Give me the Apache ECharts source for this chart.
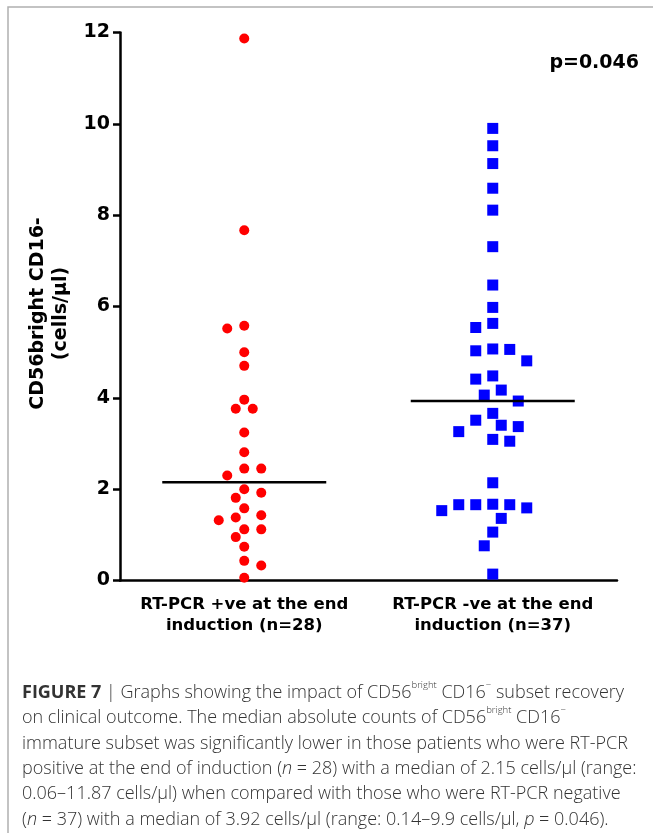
<!DOCTYPE html>
<html>
<head>
<meta charset="utf-8">
<script src="https://cdn.jsdelivr.net/npm/echarts@6/dist/echarts.min.js"></script>
<style>
  html, body { margin: 0; padding: 0; background: #fff; }
  #chart { width: 653px; height: 833px; }
</style>
</head>
<body>
<div id="chart"></div>
<script>
// groups on the x axis
const categories = ['RT-PCR +ve at the end\ninduction (n=28)', 'RT-PCR -ve at the end\ninduction (n=37)'];

// CD56bright CD16- counts (cells/ul)
const pcrPositive = [
  11.87, 7.67, 5.58, 5.52, 5.00, 4.70, 3.96, 3.76, 3.76, 3.24,
  2.81, 2.45, 2.45, 2.30, 2.00, 1.92, 1.81, 1.58, 1.38, 1.43,
  1.32, 1.12, 1.12, 0.95, 0.74, 0.43, 0.33, 0.06
];
const pcrNegative = [
  9.90, 9.52, 9.13, 8.59, 8.11, 7.31, 6.47, 5.98, 5.63, 5.54,
  5.06, 5.07, 5.03, 4.81, 4.48, 4.41, 4.17, 4.06, 3.93, 3.66,
  3.51, 3.40, 3.37, 3.26, 3.09, 3.05, 2.14, 1.67, 1.66, 1.59,
  1.53, 1.66, 1.66, 1.36, 1.06, 0.76, 0.14
];

const yTicks = [0, 2, 4, 6, 8, 10, 12];
const pValue = 'p=0.046';

// plot box in pixels
const grid = { left: 120, top: 32.5, right: 36, bottom: 252.5 };
const plotW = 653 - grid.left - grid.right;
const plotH = 833 - grid.top - grid.bottom;
const pxPerX = plotW / categories.length;
const pxPerY = plotH / (yTicks[yTicks.length - 1] - yTicks[0]);

function median(arr) {
  const s = arr.slice().sort((a, b) => a - b);
  const m = Math.floor(s.length / 2);
  return s.length % 2 ? s[m] : (s[m - 1] + s[m]) / 2;
}

// greedy beeswarm on a half-step grid, offsets in px from the group centre
function swarm(values, step, dist) {
  const placed = [];
  const out = [];
  let side = -1;
  const order = values.map((v, i) => i).sort((a, b) => values[b] - values[a]);
  order.forEach((i) => {
    const y = values[i] * pxPerY;
    for (let k = 0; k < 40; k++) {
      const cands = k === 0 ? [0] : [side * k, -side * k];
      let found = null;
      for (const c of cands) {
        const x = c * step;
        const clash = placed.some((p) => {
          const dx = p.x - x;
          const dy = p.y - y;
          return dx * dx + dy * dy < dist * dist;
        });
        if (!clash) {
          found = c;
          break;
        }
      }
      if (found !== null) {
        placed.push({ x: found * step, y: y });
        out[i] = found * step;
        if (found !== 0) side = found > 0 ? -1 : 1;
        break;
      }
    }
  });
  return out;
}

function toPoints(values, groupIdx, offsets) {
  return values.map((v, i) => [groupIdx + 0.5 + offsets[i] / pxPerX, v]);
}

const posPoints = toPoints(pcrPositive, 0, swarm(pcrPositive, 8.5, 11.5));
const negPoints = toPoints(pcrNegative, 1, swarm(pcrNegative, 8.5, 14.5));

const halfLine = 82 / pxPerX;
function medianLine(values, groupIdx) {
  const m = median(values);
  return [[groupIdx + 0.5 - halfLine, m], [groupIdx + 0.5 + halfLine, m]];
}

const captionLines = [
  '{b|FIGURE 7} | Graphs showing the impact of CD56{sup|bright} CD16{sup|\u2212} subset recovery',
  'on clinical outcome. The median absolute counts of CD56{sup|bright} CD16{sup|\u2212}',
  'immature subset was significantly lower in those patients who were RT-PCR',
  'positive at the end of induction ({i|n} = 28) with a median of 2.15 cells/\u00b5l (range:',
  '0.06\u201311.87 cells/\u00b5l) when compared with those who were RT-PCR negative',
  '({i|n} = 37) with a median of 3.92 cells/\u00b5l (range: 0.14\u20139.9 cells/\u00b5l, {i|p} = 0.046).'
];

const chart = echarts.init(document.getElementById('chart'), null, { renderer: 'canvas' });
const fontBold = 'DejaVu Sans';
const capFont = 'Open Sans';
const capSize = 18;

chart.setOption({
  backgroundColor: '#fff',
  animation: false,
  title: {
    text: captionLines.join('\n'),
    left: 17,
    top: 675,
    textStyle: {
      fontFamily: capFont,
      fontSize: capSize,
      fontWeight: 300,
      color: '#333',
      lineHeight: 25.4,
      rich: {
        b: { fontFamily: capFont, fontSize: capSize, fontWeight: 'bold', color: '#333', lineHeight: 25.4 },
        i: { fontFamily: capFont, fontSize: capSize, fontWeight: 300, fontStyle: 'italic', color: '#333', lineHeight: 25.4 },
        sup: { fontFamily: capFont, fontSize: 9.5, fontWeight: 300, color: '#333', verticalAlign: 'top', lineHeight: 18 }
      }
    }
  },
  graphic: [
    {
      type: 'polyline',
      shape: { points: [[653, 7], [8, 7], [8, 833]] },
      style: { stroke: '#b0b0b0', lineWidth: 1.5, fill: null }
    },
    {
      type: 'text',
      right: 14,
      top: 54,
      style: { text: pValue, font: 'bold 19px ' + fontBold, fill: '#000' }
    }
  ],
  grid: grid,
  xAxis: [
    {
      type: 'category',
      data: categories,
      boundaryGap: true,
      axisLine: { lineStyle: { color: '#000', width: 2.5 } },
      axisTick: { alignWithLabel: true, length: 6, lineStyle: { color: '#000', width: 2.5 } },
      axisLabel: {
        color: '#000',
        fontFamily: fontBold,
        fontWeight: 'bold',
        fontSize: 16.5,
        lineHeight: 21.5,
        margin: 13,
        interval: 0
      },
      splitLine: { show: false }
    },
    {
      type: 'value',
      min: 0,
      max: categories.length,
      show: false,
      splitLine: { show: false }
    }
  ],
  yAxis: {
    type: 'value',
    min: yTicks[0],
    max: yTicks[yTicks.length - 1],
    interval: yTicks[1] - yTicks[0],
    name: 'CD56bright CD16-\n(cells/\u03bcl)',
    nameLocation: 'middle',
    nameGap: 44,
    nameTextStyle: {
      color: '#000',
      fontFamily: fontBold,
      fontWeight: 'bold',
      fontSize: 19,
      lineHeight: 23,
      padding: [0, 14, 0, 0]
    },
    axisLine: { show: true, lineStyle: { color: '#000', width: 2.5 } },
    axisTick: { show: true, length: 7, lineStyle: { color: '#000', width: 2.5 } },
    axisLabel: {
      color: '#000',
      fontFamily: fontBold,
      fontWeight: 'bold',
      fontSize: 19,
      margin: 10
    },
    splitLine: { show: false }
  },
  series: [
    {
      name: 'RT-PCR +ve',
      type: 'scatter',
      xAxisIndex: 1,
      data: posPoints,
      symbol: 'circle',
      symbolSize: 10,
      itemStyle: { color: '#ff0000', opacity: 1 },
      z: 3
    },
    {
      name: 'RT-PCR -ve',
      type: 'scatter',
      xAxisIndex: 1,
      data: negPoints,
      symbol: 'rect',
      symbolSize: 11,
      itemStyle: { color: '#0000ff', opacity: 1 },
      z: 3
    },
    {
      type: 'line',
      xAxisIndex: 1,
      data: medianLine(pcrPositive, 0),
      symbol: 'none',
      lineStyle: { color: '#000', width: 2.5 },
      z: 4
    },
    {
      type: 'line',
      xAxisIndex: 1,
      data: medianLine(pcrNegative, 1),
      symbol: 'none',
      lineStyle: { color: '#000', width: 2.5 },
      z: 4
    }
  ]
});
</script>
</body>
</html>
